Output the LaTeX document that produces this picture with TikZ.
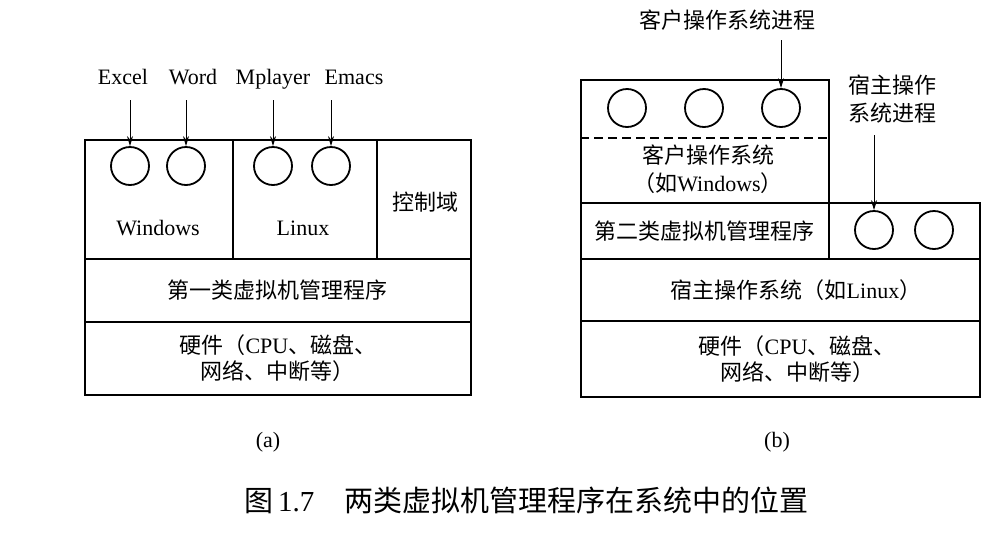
\documentclass[tikz,border=0pt]{standalone}
\usepackage{fontspec}
\setmainfont{Liberation Serif}
\newfontfamily\cjk{Noto Sans CJK SC}
\usetikzlibrary{arrows.meta}
\newcommand{\zh}[1]{{\cjk #1}}
\begin{document}
\begin{tikzpicture}[x=1pt,y=-1pt,
  every node/.style={font=\fontsize{22}{26}\selectfont},
  box/.style={draw, line width=1.8pt, rectangle, anchor=north west, inner sep=0pt, align=center},
  proc/.style={draw, circle, line width=1.8pt, minimum size=38pt, inner sep=0pt},
  arr/.style={-{Stealth[length=10pt,width=6pt]}, line width=1pt},
  lbl/.style={inner sep=0pt, align=center}]
\useasboundingbox (0,0) rectangle (1006,536);
% ---------- (a) ----------
\node[box, minimum width=148pt, minimum height=119pt] (winbox) at (84,139) {};
\node[box, minimum width=144pt, minimum height=119pt] (linbox) at (232,139) {};
\node[box, minimum width=94pt, minimum height=119pt] (ctrlbox) at (376,139) {};
\node[box, minimum width=386pt, minimum height=63pt] (vmm1) at (84,258) {\zh{第一类虚拟机管理程序}};
\node[box, minimum width=386pt, minimum height=73pt] (hw1) at (84,321) {\zh{硬件（}CPU\zh{、磁盘、}\\\zh{网络、中断等）}};
\node[lbl] (wintxt) at (158,228) {Windows};
\node[lbl] (lintxt) at (303,228) {Linux};
\node[lbl] (ctrltxt) at (425,202) {\zh{控制域}};
\node[proc] (c1) at (130,166) {};
\node[proc] (c2) at (186,166) {};
\node[proc] (c3) at (273,166) {};
\node[proc] (c4) at (331,166) {};
\node[lbl, anchor=base] (excel) at (123,84) {Excel};
\node[lbl, anchor=base] (word) at (193,84) {Word};
\node[lbl, anchor=base] (mplayer) at (273,84) {Mplayer};
\node[lbl, anchor=base] (emacs) at (354,84) {Emacs};
\coordinate (a1) at (130,100);
\coordinate (a2) at (186,100);
\coordinate (a3) at (273,100);
\coordinate (a4) at (331,100);
\draw[arr] (a1) -- (c1);
\draw[arr] (a2) -- (c2);
\draw[arr] (a3) -- (c3);
\draw[arr] (a4) -- (c4);
\node[lbl] (capa) at (268,442) {(a)};
% ---------- (b) ----------
\node[box, minimum width=248pt, minimum height=123pt] (guest) at (580,79) {};
\coordinate (dl) at (580,138);
\coordinate (dr) at (828,138);
\draw[line width=1.8pt, dash pattern=on 9pt off 5pt] (dl) -- (dr);
\node[proc] (g1) at (627,108) {};
\node[proc] (g2) at (704,108) {};
\node[proc] (g3) at (781,108) {};
\node[lbl, font=\fontsize{22}{28}\selectfont] (guesttxt) at (708,169) {\zh{客户操作系统}\\\zh{（如}Windows\zh{）}};
\node[box, minimum width=248pt, minimum height=56pt] (vmm2) at (580,202) {\zh{第二类虚拟机管理程序}};
\node[box, minimum width=151pt, minimum height=56pt] (hostproc) at (828,202) {};
\node[proc] (h1) at (874,230) {};
\node[proc] (h2) at (934,230) {};
\node[box, minimum width=399pt, minimum height=62pt] (hostos) at (580,258) {};
\node[lbl] (hostostxt) at (796,290) {\zh{宿主操作系统（如}Linux\zh{）}};
\node[box, minimum width=399pt, minimum height=76pt] (hw2) at (580,320) {};
\node[lbl] (hw2txt) at (797,359) {\zh{硬件（}CPU\zh{、磁盘、}\\\zh{网络、中断等）}};
\node[lbl] (gplbl) at (727,20) {\zh{客户操作系统进程}};
\node[lbl, font=\fontsize{22}{28}\selectfont] (hplbl) at (892,99) {\zh{宿主操作}\\\zh{系统进程}};
\coordinate (b1) at (781,40);
\coordinate (b2) at (874,135);
\draw[arr] (b1) -- (g3);
\draw[arr] (b2) -- (h1);
\node[lbl] (capb) at (777,442) {(b)};
% ---------- caption ----------
\node[lbl, anchor=west, font=\fontsize{29}{32}\selectfont] (cap) at (244,500) {\zh{图}\,1.7\hspace{30pt}\zh{两类虚拟机管理程序在系统中的位置}};
\end{tikzpicture}
\end{document}
